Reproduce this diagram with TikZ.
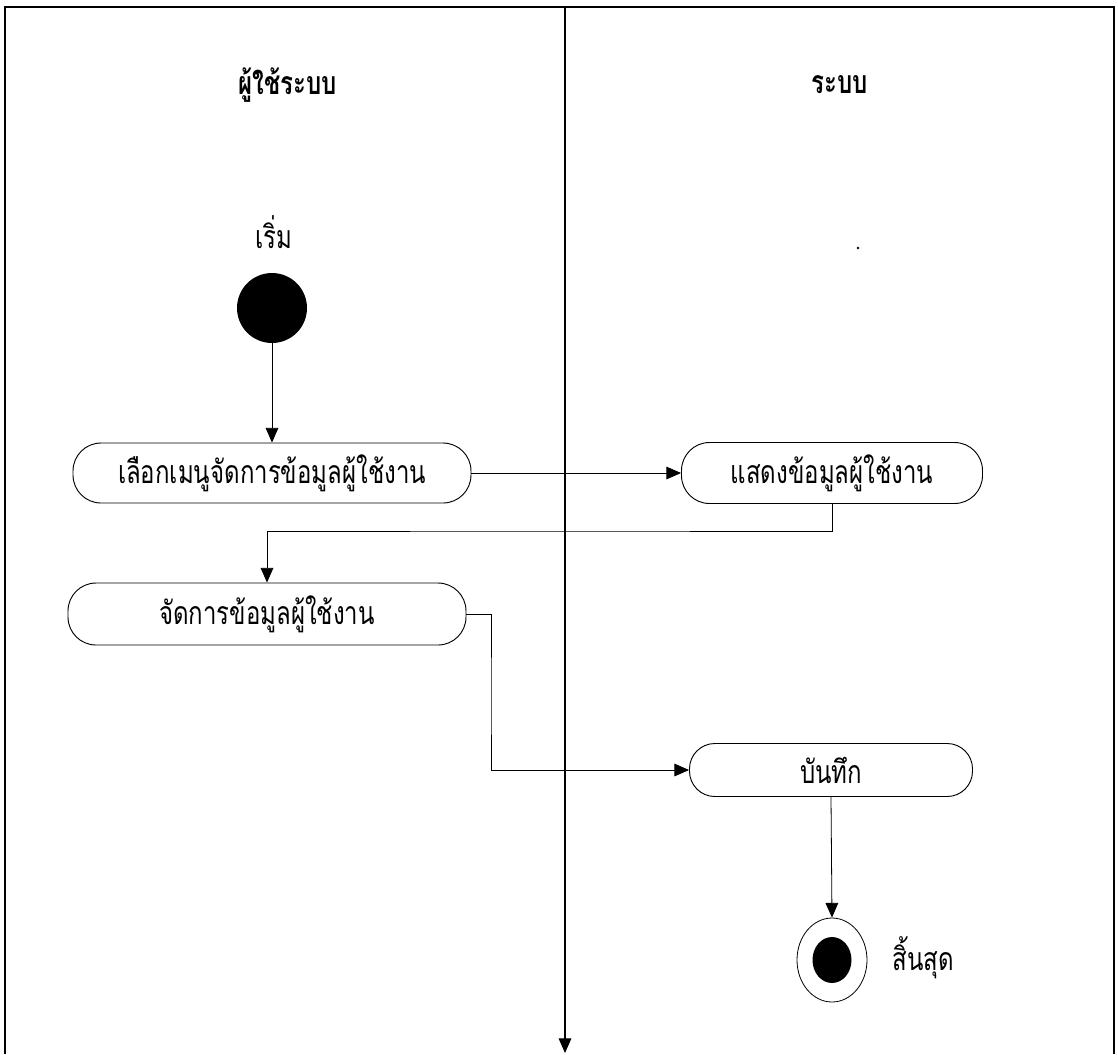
\documentclass[tikz,border=0pt]{standalone}
\usepackage{fontspec}
\newfontfamily\thaifont[Script=Thai,FakeStretch=0.75]{Loma}
\usetikzlibrary{arrows.meta,shapes.geometric}
\begin{document}
\begin{tikzpicture}[x=0.75pt,y=-0.75pt,
  font=\thaifont\fontsize{24}{28}\selectfont,
  lane/.style={line width=0.9pt},
  flow/.style={line width=0.6pt,-{Triangle[length=11pt,width=9.5pt]}},
  act/.style={draw,line width=0.7pt,rounded corners=21pt,inner sep=0pt},
  head/.style={font=\thaifont\bfseries\fontsize{24}{28}\selectfont}]
\useasboundingbox[fill=white] (0,0) rectangle (1118,1054);
% frame
\draw[lane] (5,1054) -- (5,7) -- (1114,7) -- (1114,1054);
\coordinate (dtop) at (565,7);
\coordinate (dbot) at (565,1053);
\draw[flow,line width=0.8pt] (dtop) -- (dbot);
% headers
\node[head] (h1) at (288,85) {ผู้ใช้ระบบ};
\node[head] (h2) at (840,85) {ระบบ};
% start
\node (lstart) at (274,232) {เริ่ม};
\node[circle,fill=black,minimum size=52.5pt,inner sep=0pt] (start) at (272,308) {};
\fill (858,248) circle (1.3);
% activities
\node[act,minimum width=298.5pt,minimum height=45pt] (b1) at (272,473) {เลือกเมนูจัดการข้อมูลผู้ใช้งาน};
\node[act,minimum width=225.75pt,minimum height=45.75pt] (b2) at (832,473) {แสดงข้อมูลผู้ใช้งาน};
\node[act,minimum width=298.5pt,minimum height=46.5pt] (b3) at (267,614) {จัดการข้อมูลผู้ใช้งาน};
\node[act,minimum width=212.25pt,minimum height=39.75pt,rounded corners=19pt] (b4) at (831,770) {บันทึก};
% end
\node[ellipse,draw,line width=0.6pt,minimum width=52.5pt,minimum height=63pt,inner sep=0pt] (endo) at (832,960) {};
\fill (endo.center) ellipse [x radius=19.5, y radius=23];
\node (lend) at (923,958) {สิ้นสุด};
% connectors
\coordinate (c1) at (550,531);
\coordinate (c2) at (491,700);
\draw[flow] (start) -- (b1);
\draw[flow] (b1) -- (b2);
\draw[flow] (b2.south) |- (c1) -| (b3.north);
\draw[flow] (b3.east) -| (c2) |- (b4.west);
\draw[flow] (b4.south) -- (endo.north);
\end{tikzpicture}
\end{document}
